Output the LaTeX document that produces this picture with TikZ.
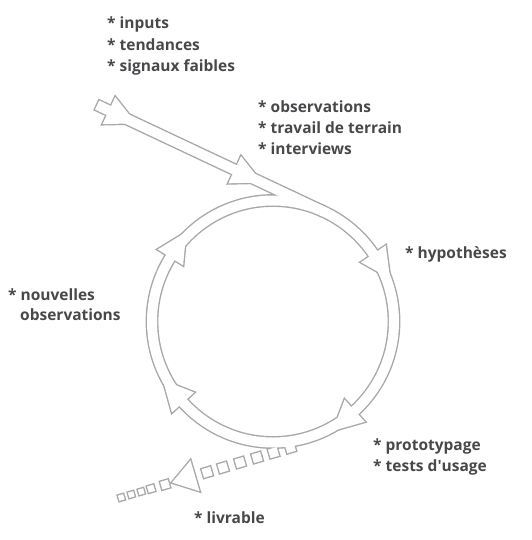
\documentclass[tikz,border=0pt]{standalone}
\usepackage{fontspec}
\setmainfont{Open Sans}
\usetikzlibrary{calc}
\definecolor{ln}{RGB}{168,168,168}
\definecolor{tx}{RGB}{72,72,74}
\newcommand\headshape[5]{% base, direction, half width, length, style
  \path[#5] ($(#1)+(#2+90:#3)$) -- ($(#1)+(#2:#4)$) -- ($(#1)+(#2-90:#3)$) -- cycle;}
\begin{document}
\begin{tikzpicture}[x=1pt,y=-1pt,
  txt/.style={font=\bfseries\fontsize{15.5}{18}\selectfont, text=tx, anchor=base west, inner sep=0pt},
  graylayer/.style={draw=ln, fill=ln, line width=2.8pt, line join=miter},
  whitelayer/.style={fill=white, draw=none},
  bandgray/.style={draw=ln, line width=12.8pt},
  bandwhite/.style={draw=white, line width=10pt}]
\useasboundingbox (0,0) rectangle (531,540);
\def\R{121}
\coordinate (C) at (273,321.5);
\coordinate (T) at ($(C)+(-64.8:\R)$);
\coordinate (S) at ($(T)+(205.2:251.3)$);
\coordinate (S0) at ($(S)+(205.2:1.4)$);
\coordinate (A1) at ($(S)+(25.2:13)$);
\coordinate (A2) at ($(S)+(25.2:152)$);
\coordinate (R1) at ($(C)+(-34:\R)$);
\coordinate (R2) at ($(C)+(47.5:\R)$);
\coordinate (R3) at ($(C)+(138:\R)$);
\coordinate (R4) at ($(C)+(-148:\R)$);
\coordinate (P) at ($(C)+(73.6:126)$);
\coordinate (D) at ($(P)+(163.6:118.4)$);
\def\sqlist{19/9,36.5/9,53.7/9,71.4/9,89.2/9,105.8/9,149.6/8,164.2/6.5,174.4/5.5,184.8/5.5,195.2/5.5}
% ---- gray layer (outlines)
\path[bandgray] (S0) -- (T);
\path[bandgray] (C) circle[radius=\R];
\headshape{A1}{25.2}{15}{30}{graylayer}
\headshape{A2}{25.2}{15}{30}{graylayer}
\headshape{R1}{56}{15}{30}{graylayer}
\headshape{R2}{137.5}{15}{30}{graylayer}
\headshape{R3}{228}{15}{30}{graylayer}
\headshape{R4}{-58}{15}{30}{graylayer}
\headshape{D}{163.6}{16}{24}{graylayer}
\foreach \t/\s in \sqlist {
  \begin{scope}[shift={($(P)+(163.6:\t)$)}, rotate=-163.6]
    \path[graylayer] (-\s/2,-\s/2) -- (\s/2,-\s/2) -- (\s/2,\s/2) -- (-\s/2,\s/2) -- cycle;
  \end{scope}}
% ---- white layer (interiors)
\path[bandwhite] (S) -- (T);
\path[bandwhite] (C) circle[radius=\R];
\headshape{A1}{25.2}{15}{30}{whitelayer}
\headshape{A2}{25.2}{15}{30}{whitelayer}
\headshape{R1}{56}{15}{30}{whitelayer}
\headshape{R2}{137.5}{15}{30}{whitelayer}
\headshape{R3}{228}{15}{30}{whitelayer}
\headshape{R4}{-58}{15}{30}{whitelayer}
\headshape{D}{163.6}{16}{24}{whitelayer}
\foreach \t/\s in \sqlist {
  \begin{scope}[shift={($(P)+(163.6:\t)$)}, rotate=-163.6]
    \path[whitelayer] (-\s/2,-\s/2) -- (\s/2,-\s/2) -- (\s/2,\s/2) -- (-\s/2,\s/2) -- cycle;
  \end{scope}}
% ---- labels
\node[txt] (in1) at (107,29) {* inputs};
\node[txt] (in2) at (107,51) {* tendances};
\node[txt] (in3) at (107,72) {* signaux faibles};
\node[txt] (ob1) at (258,113) {* observations};
\node[txt] (ob2) at (258,134) {* travail de terrain};
\node[txt] (ob3) at (258,155) {* interviews};
\node[txt] (hy) at (405,258) {* hypothèses};
\node[txt] (nv1) at (8,300) {* nouvelles};
\node[txt] (nv2) at (20,320) {observations};
\node[txt] (pr1) at (373,450) {* prototypage};
\node[txt] (pr2) at (373,471) {* tests d\textquotesingle usage};
\node[txt] (lv) at (194,523) {* livrable};
\end{tikzpicture}
\end{document}
